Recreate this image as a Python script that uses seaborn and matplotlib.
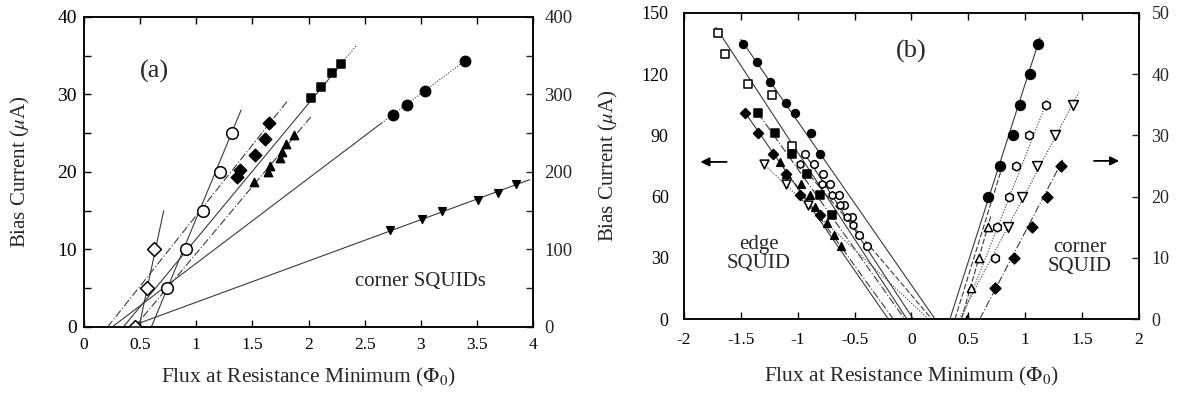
import numpy as np
import pandas as pd
import matplotlib
matplotlib.use("Agg")
import matplotlib.pyplot as plt
import seaborn as sns

# ---------------- data: panel (a) corner SQUIDs ----------------
a_odiam_x = [0.45, 0.56, 0.62]
a_odiam_y = [0, 5, 10]
a_ocirc_x = [0.74, 0.91, 1.06, 1.21, 1.32]
a_ocirc_y = [5, 10, 15, 20, 25]
a_fdiam_x = [1.36, 1.39, 1.52, 1.61, 1.65]
a_fdiam_y = [19.4, 20.3, 22.2, 24.2, 26.3]
a_ftri_x = [1.51, 1.64, 1.66, 1.75, 1.76, 1.80, 1.87]
a_ftri_y = [18.7, 20.0, 20.8, 21.8, 22.6, 23.6, 24.8]
a_fsq_x = [2.02, 2.11, 2.21, 2.29]
a_fsq_y = [29.6, 31.0, 32.7, 33.9]
a_fcirc_x = [2.75, 2.88, 3.04, 3.39]
a_fcirc_y = [27.4, 28.7, 30.5, 34.3]
a_dtri_x = [2.73, 3.01, 3.19, 3.51, 3.69, 3.85]
a_dtri_y = [12.5, 13.9, 15.0, 16.4, 17.3, 18.4]
# fit lines: (x0, y0, x1, y1)
a_lines = {
    "odiam": (0.49, 0, 0.71, 15),
    "ocirc": (0.60, 0, 1.40, 28),
    "fdiam": (0.21, 0, 1.82, 29.3),
    "ftri": (0.45, 0, 2.02, 27.1),
    "fsq": (0.35, 0, 2.29, 33.9),
    "fsq_ext": (2.29, 33.9, 2.43, 36.4),
    "fcirc": (0.25, 0, 2.65, 26.3),
    "fcirc_ext": (2.65, 26.3, 3.39, 34.3),
    "dtri": (0.40, 0, 3.97, 19.0),
}

# ---------------- data: panel (b) ----------------
# edge SQUID (left axis, uA)
e_osq_x = [-1.70, -1.64, -1.44, -1.23, -1.05]
e_osq_y = [140, 130, 115, 110, 85]
e_fcirc_x = [-1.48, -1.36, -1.24, -1.10, -1.02, -0.88, -0.80]
e_fcirc_y = [135, 126, 116, 106, 101, 91, 81]
e_fsq_x = [-1.35, -1.20, -1.05, -0.92, -0.80, -0.70]
e_fsq_y = [101, 91, 81, 71, 61, 51]
e_fdiam_x = [-1.46, -1.35, -1.22, -1.10, -0.98, -0.80]
e_fdiam_y = [101, 91, 81, 71, 61, 51]
e_ftri_x = [-1.16, -1.10, -0.97, -0.89, -0.85, -0.74, -0.68, -0.62]
e_ftri_y = [77, 71, 66, 61, 55, 47, 41, 36]
e_odtri_x = [-1.30, -1.10, -0.91]
e_odtri_y = [76, 66, 56]
e_ocirc_x = [-0.94, -0.86, -0.78, -0.72, -0.64, -0.59, -0.52, -0.46, -0.39]
e_ocirc_y = [81, 76, 71, 66, 61, 56, 50, 41, 36]
e_ohex_x = [-0.98, -0.79, -0.70, -0.63, -0.57, -0.51]
e_ohex_y = [76, 66, 61, 56, 50, 46]
e_lines = {
    "osq": (-1.72, 143, -0.04, 0),
    "fcirc": (-1.50, 137, 0.207, 0),
    "fsq": (-1.35, 101, -0.06, 0),
    "fdiam": (-1.46, 101, -0.204, 0),
    "ftri": (-1.16, 77, -0.16, 0),
    "odtri": (-1.30, 76, 0.148, 0),
    "ocirc": (-0.94, 81, 0.016, 0),
    "ohex": (-0.98, 76, 0.178, 0),
}
# corner SQUID (right axis)
c_fcirc_x = [0.675, 0.78, 0.89, 0.95, 1.04, 1.115]
c_fcirc_y = [20, 25, 30, 35, 40, 45]
c_ohex_x = [0.73, 0.755, 0.86, 0.92, 1.03, 1.18]
c_ohex_y = [10, 15, 20, 25, 30, 35]
c_odtri_x = [0.85, 0.97, 1.10, 1.26, 1.42]
c_odtri_y = [15, 20, 25, 30, 35]
c_fdiam_x = [0.73, 0.90, 1.06, 1.19, 1.31]
c_fdiam_y = [5, 10, 15, 20, 25]
c_otri_x = [0.52, 0.59, 0.675]
c_otri_y = [5, 10, 15]
c_ftri_x = [0.49]
c_ftri_y = [0]
c_lines = {
    "fcirc": (0.338, 0, 1.13, 46),
    "fcirc2": (0.382, 0, 0.80, 25),
    "ohex": (0.44, 0, 1.20, 36),
    "odtri": (0.42, 0, 1.47, 37),
    "fdiam": (0.60, 0, 1.33, 26),
    "otri": (0.44, 0, 0.70, 17),
}

# ---------------- style ----------------
sns.set_theme(style="ticks")
plt.rcParams["font.family"] = ["Liberation Serif", "DejaVu Serif"]
plt.rcParams["mathtext.fontset"] = "stix"
plt.rcParams["axes.linewidth"] = 1.1

fig = plt.figure(figsize=(11.78, 3.95), dpi=100)
axA = fig.add_axes([0.0713, 0.1722, 0.3812, 0.785])
axB = fig.add_axes([0.5806, 0.1924, 0.3863, 0.7747])

LC = "#3a3a3a"


def pts(ax, x, y, marker, filled, s):
    sns.scatterplot(x=x, y=y, ax=ax, marker=marker, s=s,
                    facecolor="black" if filled else "white",
                    edgecolor="black", linewidth=1.1, zorder=5, legend=False)


def seg(ax, l, ls="-"):
    ax.plot([l[0], l[2]], [l[1], l[3]], color=LC, lw=0.8, ls=ls, zorder=2)


DASHDOT = (0, (7, 2, 1, 2))
DOT = (0, (1, 1.5))

# ---------------- panel (a) ----------------
line_styles_a = {"odiam": "-", "ocirc": "-", "fdiam": DASHDOT,
                 "ftri": DASHDOT, "fsq": "-", "fsq_ext": DOT, "fcirc": "-",
                 "fcirc_ext": DOT, "dtri": "-"}
for k, l in a_lines.items():
    seg(axA, l, line_styles_a[k])
pts(axA, a_odiam_x, a_odiam_y, "D", False, 50)
pts(axA, a_ocirc_x, a_ocirc_y, "o", False, 70)
pts(axA, a_fdiam_x, a_fdiam_y, "D", True, 40)
pts(axA, a_ftri_x, a_ftri_y, "^", True, 35)
pts(axA, a_fsq_x, a_fsq_y, "s", True, 40)
pts(axA, a_fcirc_x, a_fcirc_y, "o", True, 55)
pts(axA, a_dtri_x, a_dtri_y, "v", True, 30)

axA.set_xlim(0, 4)
axA.set_ylim(0, 40)
axA.set_xticks(np.arange(0, 4.01, 0.5))
axA.set_xticklabels(["0", "0.5", "1", "1.5", "2", "2.5", "3", "3.5", "4"])
axA.set_yticks(np.arange(0, 41, 5))
axA.set_yticklabels(["0", "", "10", "", "20", "", "30", "", "40"])
axA.tick_params(axis="both", direction="in", length=5, width=1,
                top=True, colors="black")
axA.tick_params(axis="x", pad=7, labelsize=12.5)
axA.tick_params(axis="y", pad=5, labelsize=14)
axA2 = axA.twinx()
axA2.set_ylim(0, 400)
axA2.set_yticks(np.arange(0, 401, 50))
axA2.set_yticklabels(["0", "", "100", "", "200", "", "300", "", "400"])
axA2.tick_params(axis="y", direction="in", length=5, width=1, labelsize=13.5, pad=8)
axA.set_xlabel(r"Flux at Resistance Minimum ($\Phi_0$)", fontsize=15.5)
axA.set_ylabel(r"Bias Current ($\mu$A)", fontsize=15)
axA.yaxis.set_label_coords(-0.115, 0.5)
axA.xaxis.set_label_coords(0.5, -0.125)
axA.text(0.63, 33, "(a)", fontsize=19, ha="center", va="center")
axA.text(3.0, 5.9, "corner SQUIDs", fontsize=15, ha="center", va="center")

# ---------------- panel (b) ----------------
line_styles_e = {"osq": "-", "fcirc": "-", "fsq": DASHDOT, "fdiam": "-",
                 "ftri": DASHDOT, "odtri": DOT, "ocirc": "-",
                 "ohex": (0, (5, 2))}
for k, l in e_lines.items():
    seg(axB, l, line_styles_e[k])
pts(axB, e_osq_x, e_osq_y, "s", False, 40)
pts(axB, e_fcirc_x, e_fcirc_y, "o", True, 32)
pts(axB, e_fsq_x, e_fsq_y, "s", True, 36)
pts(axB, e_fdiam_x, e_fdiam_y, "D", True, 26)
pts(axB, e_ftri_x, e_ftri_y, "^", True, 30)
pts(axB, e_odtri_x, e_odtri_y, "v", False, 40)
pts(axB, e_ocirc_x, e_ocirc_y, "o", False, 30)
pts(axB, e_ohex_x, e_ohex_y, "h", False, 30)

axB.set_xlim(-2, 2)
axB.set_ylim(0, 150)
axB.set_xticks(np.arange(-2, 2.01, 0.5))
axB.set_xticklabels(["-2", "-1.5", "-1", "-0.5", "0", "0.5", "1", "1.5", "2"])
axB.set_yticks(np.arange(0, 151, 30))
axB.tick_params(axis="x", direction="in", length=5, width=1, labelsize=12.5,
                top=True, pad=9, colors="black")
axB.tick_params(axis="y", direction="in", length=0, labelsize=13, pad=11,
                colors="black")
axB2 = axB.twinx()
axB2.set_ylim(0, 50)
axB2.set_yticks(np.arange(0, 51, 10))
axB2.tick_params(axis="y", direction="in", length=5, width=1, labelsize=13, pad=9)
for k, l in c_lines.items():
    st = {"fcirc": "-", "fcirc2": (0, (5, 2)), "ohex": DOT,
          "odtri": DOT, "fdiam": DASHDOT, "otri": (0, (5, 2))}[k]
    seg(axB2, l, st)
pts(axB2, c_fcirc_x, c_fcirc_y, "o", True, 50)
pts(axB2, c_ohex_x, c_ohex_y, "h", False, 40)
pts(axB2, c_odtri_x, c_odtri_y, "v", False, 50)
pts(axB2, c_fdiam_x, c_fdiam_y, "D", True, 30)
pts(axB2, c_otri_x, c_otri_y, "^", False, 35)
pts(axB2, c_ftri_x, c_ftri_y, "^", True, 35)

axB.set_xlabel(r"Flux at Resistance Minimum ($\Phi_0$)", fontsize=15.5)
axB.set_ylabel(r"Bias Current ($\mu$A)", fontsize=15)
axB.yaxis.set_label_coords(-0.14, 0.5)
axB.xaxis.set_label_coords(0.5, -0.15)
axB.text(0.0, 131, "(b)", fontsize=19, ha="center", va="center")
axB.text(-1.34, 32, "edge\nSQUID", fontsize=15, ha="center", va="center",
         linespacing=1.0)
axB.text(1.48, 30.5, "corner\nSQUID", fontsize=15, ha="center", va="center",
         linespacing=1.0)
axB.annotate("", xy=(-1.88, 77), xytext=(-1.60, 77),
             arrowprops=dict(arrowstyle="-|>", color="black", lw=1.3,
                             mutation_scale=13))
axB.annotate("", xy=(1.85, 77.5), xytext=(1.58, 77.5),
             arrowprops=dict(arrowstyle="-|>", color="black", lw=1.3,
                             mutation_scale=13))

for ax in (axA, axA2, axB, axB2):
    for sp in ax.spines.values():
        sp.set_color("black")
        sp.set_linewidth(1.1)
    ax.set_facecolor("none")

fig.savefig("out.png", dpi=100, facecolor="white")
